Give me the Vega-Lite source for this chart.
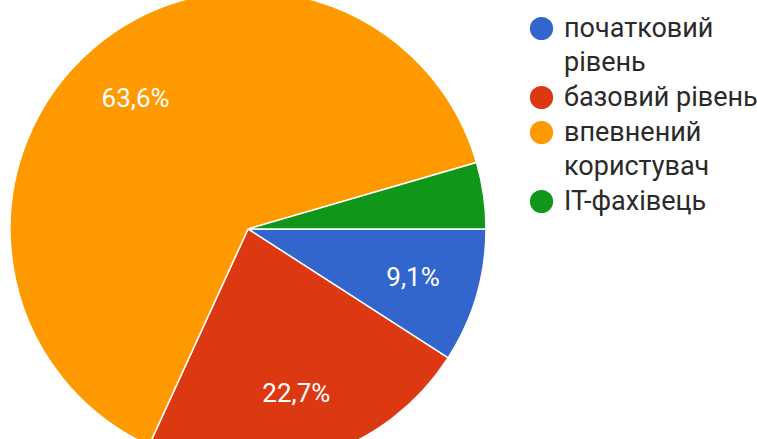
{
  "$schema": "https://vega.github.io/schema/vega-lite/v6.json",
  "width": 496,
  "height": 458,
  "padding": {"left": 0, "top": 0, "right": 261, "bottom": -19},
  "autosize": {"type": "none"},
  "background": "white",
  "config": {"style": {"guide-label": {"lineHeight": 34}}},
  "data": {
    "values": [
      {"level": "початковий рівень", "share": 9.1, "order": 1, "label": "9,1%"},
      {"level": "базовий рівень", "share": 22.7, "order": 2, "label": "22,7%"},
      {"level": "впевнений користувач", "share": 63.6, "order": 3, "label": "63,6%"},
      {"level": "ІТ-фахівець", "share": 4.5, "order": 4, "label": ""}
    ]
  },
  "encoding": {
    "theta": {"field": "share", "type": "quantitative", "stack": true, "scale": {"range": [1.5708, 7.854]}},
    "order": {"field": "order", "type": "quantitative"}
  },
  "layer": [
    {
      "mark": {"type": "arc", "outerRadius": 238, "stroke": "white", "strokeWidth": 1.5},
      "encoding": {
        "color": {
          "field": "level",
          "type": "nominal",
          "scale": {
            "domain": ["початковий рівень", "базовий рівень", "впевнений користувач", "ІТ-фахівець"],
            "range": ["#3366cc", "#dc3912", "#ff9900", "#109618"]
          },
          "legend": {
            "title": null,
            "orient": "none",
            "legendX": 528,
            "legendY": 15,
            "symbolType": "circle",
            "symbolSize": 540,
            "symbolStrokeWidth": 0,
            "symbolOpacity": 1,
            "labelFont": "Roboto",
            "labelFontSize": 27,
            "labelColor": "#2a2a2a",
            "labelOffset": 9,
            "labelLimit": 300,
            "rowPadding": 7,
            "labelExpr": "datum.label == 'початковий рівень' ? ['початковий', 'рівень'] : datum.label == 'впевнений користувач' ? ['впевнений', 'користувач'] : datum.label",
            "encode": {"labels": {"update": {"lineHeight": {"value": 34}}}}
          }
        }
      }
    },
    {
      "mark": {"type": "text", "radius": 172, "fontSize": 26, "font": "Roboto", "fill": "white"},
      "encoding": {"text": {"field": "label"}}
    }
  ]
}
